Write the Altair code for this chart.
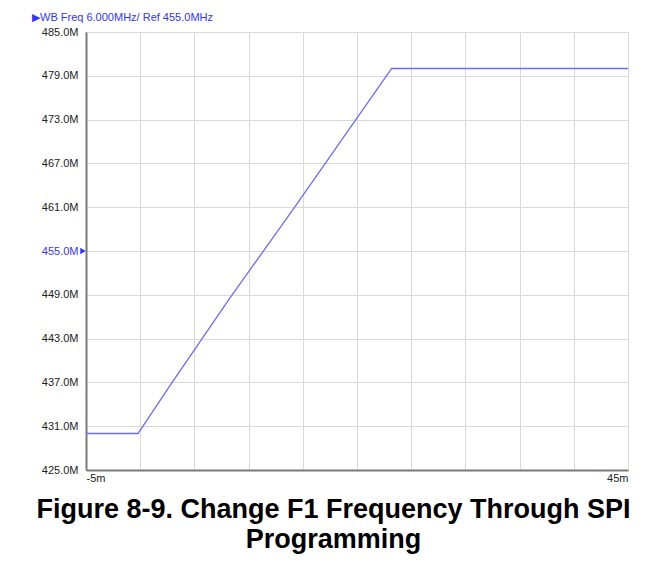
import altair as alt
import pandas as pd

# Data
time_ms = [-5.0, -0.2, 2.9, 8.3, 14.3, 23.2, 45.0]
freq_mhz = [430.0, 430.0, 436.9, 448.6, 461.1, 480.0, 480.0]
y_ticks = [425, 431, 437, 443, 449, 455, 461, 467, 473, 479, 485]
x_ticks = [-5, 0, 5, 10, 15, 20, 25, 30, 35, 40, 45]
ref_level = [455]
header = ["\u25B6WB Freq 6.000MHz/ Ref 455.0MHz"]
caption = ["Figure 8-9. Change F1 Frequency Through SPI", "Programming"]

df = pd.DataFrame({"t": time_ms, "f": freq_mhz})
ref_df = pd.DataFrame({"f": ref_level})
head_df = pd.DataFrame({"label": header})

LABEL_FONT = "Liberation Sans"
BLUE = "#3333ff"

x_enc = alt.X(
    "t:Q",
    scale=alt.Scale(domain=[-5, 45], nice=False, zero=False),
    axis=alt.Axis(
        values=x_ticks,
        labelExpr="datum.value == -5 ? '-5m' : (datum.value == 45 ? '45m' : '')",
        labelFlush=True,
        labelOverlap=False,
        grid=True,
        gridColor="#d9d9d9",
        gridWidth=1,
        domainColor="#7a7a7a",
        domainWidth=2,
        ticks=False,
        labelPadding=2,
        labelFont=LABEL_FONT,
        labelFontSize=11,
        labelColor="#222222",
        title=caption,
        titleFont="Liberation Sans",
        titleFontSize=27,
        titleFontWeight="bold",
        titleColor="#000000",
        titleX=247,
        titleY=47,
        titleBaseline="alphabetic",
        titleAlign="center",
        titleLineHeight=30,
    ),
)

y_enc = alt.Y(
    "f:Q",
    scale=alt.Scale(domain=[425, 485], nice=False, zero=False),
    axis=alt.Axis(
        values=y_ticks,
        labelExpr="format(datum.value, '.1f') + 'M'",
        labelColor={"condition": {"test": "datum.value == 455", "value": BLUE}, "value": "#222222"},
        labelFont=LABEL_FONT,
        labelFontSize=11,
        labelPadding=8,
        grid=True,
        gridColor="#d9d9d9",
        gridWidth=1,
        domainColor="#7a7a7a",
        domainWidth=2,
        ticks=False,
        title=None,
    ),
)

line = alt.Chart(df).mark_line(color="#6b6bff", strokeWidth=1.3, clip=True).encode(
    x=x_enc, y=y_enc
)

marker = alt.Chart(ref_df).mark_point(
    shape="triangle-right", filled=True, size=40, color=BLUE, opacity=1
).encode(x=alt.value(-3), y=alt.Y("f:Q"))

head = alt.Chart(head_df).mark_text(
    align="left", baseline="alphabetic", font=LABEL_FONT, fontSize=11, color=BLUE
).encode(x=alt.value(-54), y=alt.value(-11), text="label:N")

chart = (
    alt.layer(line, marker, head)
    .properties(
        width=542,
        height=438,
        autosize=alt.AutoSizeParams(type="none"),
        padding={"left": 78, "top": 24, "right": 27, "bottom": 84},
    )
    .configure_view(stroke="#8a8a8a", strokeWidth=1.5)
    .configure(background="#ffffff")
)

chart.save("out.html", embed_options={"renderer": "svg", "actions": False})
